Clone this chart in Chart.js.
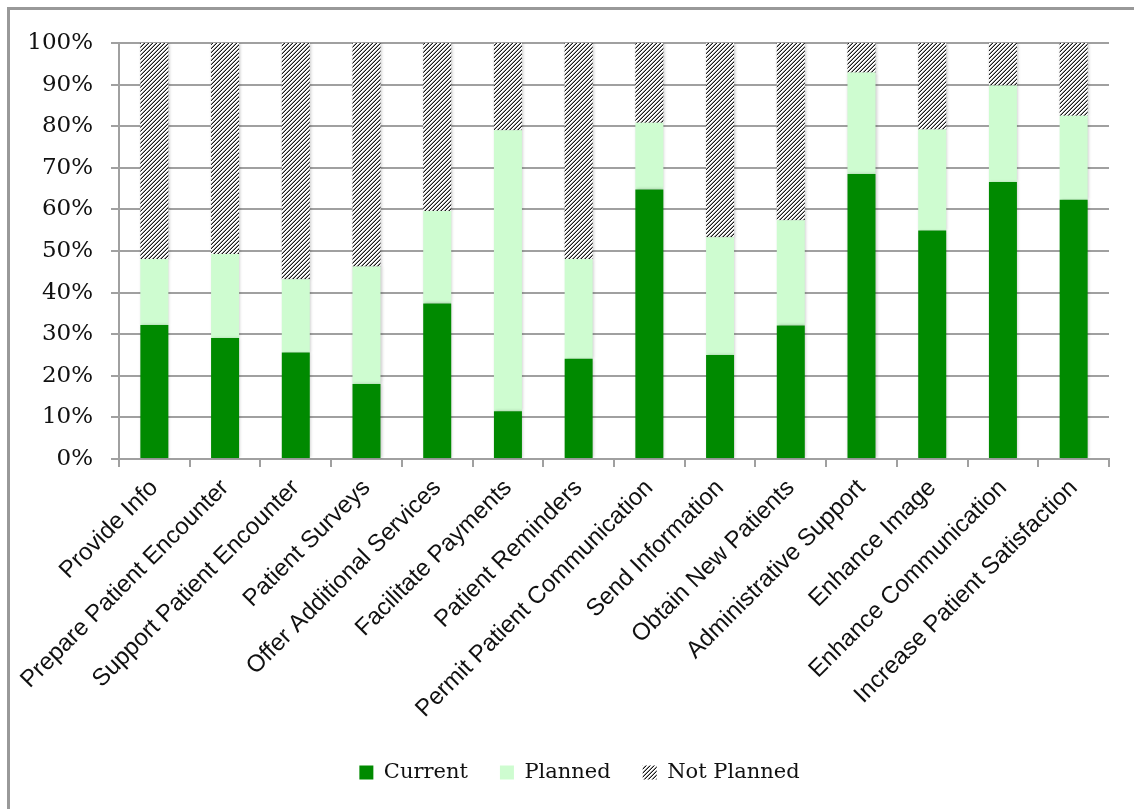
<!DOCTYPE html>
<html>
<head>
<meta charset="utf-8">
<title>Patient portal use</title>
<script src="https://cdn.jsdelivr.net/npm/chart.js@4/dist/chart.umd.min.js"></script>
<style>
  html, body { margin: 0; padding: 0; background: #fff; }
  #wrap { width: 1134px; height: 809px; position: relative; }
</style>
</head>
<body>
<div id="wrap"><canvas id="usageChart" width="1134" height="809"></canvas></div>
<script>
const categories = [
  "Provide Info",
  "Prepare Patient Encounter",
  "Support Patient Encounter",
  "Patient Surveys",
  "Offer Additional Services",
  "Facilitate Payments",
  "Patient Reminders",
  "Permit Patient Communication",
  "Send Information",
  "Obtain New Patients",
  "Administrative Support",
  "Enhance Image",
  "Enhance Communication",
  "Increase Patient Satisfaction",
];

// percent of respondents per purpose
const current = [32.2, 29.1, 25.6, 18.0, 37.4, 11.5, 24.1, 64.8, 25.0, 32.1, 68.5, 54.9, 66.6, 62.3];
const planned = [15.9, 20.2, 17.6, 28.3, 22.2, 67.5, 24.0, 16.0, 28.3, 25.3, 24.4, 24.3, 23.2, 20.2];
const notPlanned = [51.9, 50.7, 56.8, 53.7, 40.4, 21.0, 51.9, 19.2, 46.7, 42.6, 7.1, 20.8, 10.2, 17.5];

const yTicks = [0, 10, 20, 30, 40, 50, 60, 70, 80, 90, 100];

const gridGray = "#a0a0a0";

// small "////" hatch tile for the Not Planned segments
function makeHatch() {
  const tile = document.createElement("canvas");
  tile.width = 4;
  tile.height = 4;
  const c = tile.getContext("2d");
  c.fillStyle = "#ffffff";
  c.fillRect(0, 0, 4, 4);
  for (let x = 0; x < 4; x++) {
    for (let y = 0; y < 4; y++) {
      const d = (x + y) % 4;
      if (d === 3) {
        c.fillStyle = "#1a1a1a";
        c.fillRect(x, y, 1, 1);
      } else if (d === 2) {
        c.fillStyle = "#9a9a9a";
        c.fillRect(x, y, 1, 1);
      }
    }
  }
  return c.createPattern(tile, "repeat");
}

const ctx = document.getElementById("usageChart").getContext("2d");
const hatch = makeHatch();

// outer frame (left and top edges) + soft bar shadow
const framePlugin = {
  id: "frame",
  beforeDraw(chart) {
    const c = chart.ctx;
    c.save();
    c.fillStyle = "#ffffff";
    c.fillRect(0, 0, chart.width, chart.height);
    c.strokeStyle = "#999999";
    c.lineWidth = 3;
    c.beginPath();
    c.moveTo(8.5, chart.height);
    c.lineTo(8.5, 8.5);
    c.lineTo(chart.width, 8.5);
    c.stroke();
    c.restore();
  },
  afterLayout(chart) {
    // nudge the legend row a bit to the right
    chart.legend.left += 25;
    chart.legend.right += 25;
  },
  beforeDatasetsDraw(chart) {
    chart.ctx.save();
    chart.ctx.shadowColor = "rgba(0,0,0,0.22)";
    chart.ctx.shadowBlur = 3;
    chart.ctx.shadowOffsetX = 1;
  },
  afterDatasetsDraw(chart) {
    chart.ctx.restore();
  },
};

new Chart(ctx, {
  type: "bar",
  data: {
    labels: categories,
    datasets: [
      { label: "Current", data: current, backgroundColor: "#008a00" },
      { label: "Planned", data: planned, backgroundColor: "#cefcd0" },
      { label: "Not Planned", data: notPlanned, backgroundColor: hatch },
    ],
  },
  options: {
    responsive: false,
    animation: false,
    devicePixelRatio: 1,
    layout: { padding: { top: 43, right: 25, left: 0, bottom: 16 } },
    datasets: {
      bar: { categoryPercentage: 0.8, barPercentage: 0.495, borderWidth: 0 },
    },
    plugins: {
      tooltip: { enabled: false },
      legend: {
        position: "bottom",
        labels: {
          boxWidth: 14,
          boxHeight: 14,
          padding: 32,
          color: "#111",
          font: { family: "'DejaVu Serif'", size: 21 },
        },
      },
    },
    scales: {
      x: {
        stacked: true,
        grid: {
          drawOnChartArea: false,
          drawTicks: true,
          tickLength: 8,
          color: gridGray,
          lineWidth: 2,
        },
        border: { color: gridGray, width: 2 },
        ticks: {
          autoSkip: false,
          minRotation: 45,
          maxRotation: 45,
          padding: 7,
          color: "#111",
          font: { family: "'Liberation Sans', Arial", size: 24 },
        },
        afterFit(scale) {
          scale.height = 271;
        },
      },
      y: {
        stacked: true,
        min: 0,
        max: 100,
        afterBuildTicks(scale) {
          scale.ticks = yTicks.map((v) => ({ value: v }));
        },
        grid: { color: gridGray, lineWidth: 2, tickLength: 8 },
        border: { color: gridGray, width: 2 },
        ticks: {
          padding: 18,
          color: "#111",
          font: { family: "'DejaVu Serif'", size: 23 },
          callback: (v) => v + "%",
        },
        afterFit(scale) {
          scale.width = 119;
        },
      },
    },
  },
  plugins: [framePlugin],
});
</script>
</body>
</html>
